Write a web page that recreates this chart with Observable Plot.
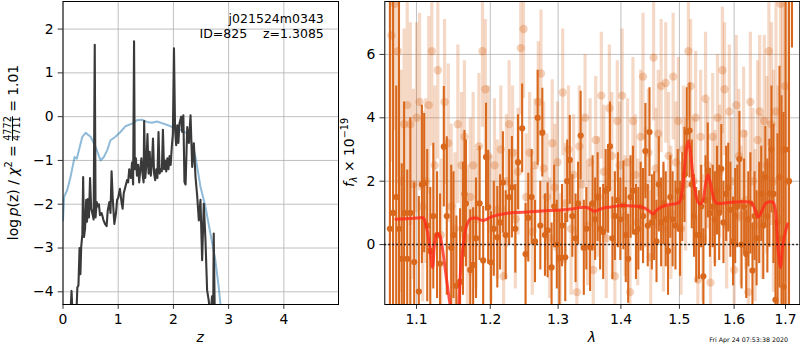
<!DOCTYPE html>
<html><head><meta charset="utf-8">
<script src="https://cdn.jsdelivr.net/npm/d3@7"></script>
<script src="https://cdn.jsdelivr.net/npm/@observablehq/plot@0.6"></script>
<style>
body{margin:0;background:#fff;}
#fig{position:relative;width:800px;height:350px;overflow:hidden;background:#fff;}
#fig svg{position:absolute;top:0;}
</style></head><body><div id="fig"></div>
<script>
// ---------- left panel: p(z) ----------
const zTicks = [0, 1, 2, 3, 4];
const logpTicks = [-4, -3, -2, -1, 0, 1, 2];
const pzZ = [0.13,0.155,0.175,0.24,0.26,0.28,0.30,0.315,0.33,0.35,0.365,0.38,0.40,0.42,0.435,0.45,0.47,0.49,0.51,0.53,0.555,0.575,0.59,0.61,0.63,0.65,0.67,0.70,0.73,0.76,0.79,0.81,0.84,0.86,0.88,0.90,0.93,0.96,0.98,1.00,1.03,1.06,1.08,1.10,1.13,1.16,1.18,1.20,1.23,1.25,1.27,1.287,1.30,1.32,1.34,1.36,1.38,1.40,1.42,1.44,1.46,1.47,1.49,1.51,1.53,1.55,1.57,1.59,1.61,1.63,1.65,1.67,1.69,1.71,1.73,1.75,1.77,1.79,1.81,1.83,1.85,1.87,1.89,1.91,1.93,1.95,1.97,1.99,2.01,2.03,2.05,2.07,2.09,2.11,2.14,2.16,2.18,2.20,2.22,2.25,2.28,2.31,2.34,2.37,2.40,2.43,2.46,2.49,2.52,2.55,2.58,2.61,2.64,2.67,2.70,2.72,2.73,2.75];
const pzLog = [-4.6,-3.98,-4.6,-4.6,-3.9,-3.85,-3.0,-3.6,-2.97,-2.7,-1.38,-2.75,-2.55,-1.9,-2.4,-1.88,-2.3,-1.4,-2.1,-2.2,-2.35,1.64,-2.3,-1.95,-2.05,-2.0,-2.25,-2.2,-2.35,-2.45,-2.5,-2.15,-1.95,-2.2,-1.25,-1.85,-2.45,-2.2,-1.9,-1.85,-1.65,-1.95,-2.1,-1.75,-1.6,-1.45,-1.5,-1.2,-1.4,-1.05,-1.55,1.72,-1.2,-0.95,-1.35,-1.1,-1.5,-1.2,-0.95,-1.3,-1.5,-0.1,-1.4,-1.1,-0.4,-1.3,-0.8,-1.35,-1.1,-0.5,-1.3,-1.45,-1.2,-1.4,-0.35,-1.3,-1.2,-1.25,-0.3,-1.2,-1.0,-1.25,-0.95,-1.2,-0.9,-1.1,-0.7,-0.4,1.56,-0.3,-0.65,-0.2,-0.6,-0.15,0.0,-0.35,0.03,-1.49,-1.55,-0.24,-0.6,0.03,-1.15,-0.61,-1.38,-1.8,-2.37,-1.9,-3.28,-1.99,-2.8,-3.96,-4.2,-4.6,-4.1,-4.6,-2.67,-4.6];
const priorZ = [0.0,0.02,0.075,0.136,0.21,0.25,0.35,0.41,0.5,0.59,0.68,0.74,0.80,0.86,0.95,1.04,1.13,1.25,1.34,1.43,1.52,1.61,1.70,1.82,1.95,2.03,2.16,2.25,2.34,2.40,2.49,2.58,2.67,2.76,2.82,2.85,2.9];
const priorLog = [-2.37,-1.83,-1.68,-1.38,-0.92,-0.96,-0.46,-0.37,-0.46,-0.69,-1.0,-0.92,-0.77,-0.54,-0.46,-0.35,-0.22,-0.16,-0.08,-0.07,-0.12,-0.14,-0.11,-0.16,-0.22,-0.27,-0.31,-0.39,-0.62,-0.92,-1.6,-2.06,-2.67,-3.28,-3.89,-4.26,-4.7];

// ---------- right panel: spectrum ----------
const lamTicks = [1.1, 1.2, 1.3, 1.4, 1.5, 1.6, 1.7];
const fluxTicks = [0, 2, 4, 6];
const darkLam = [1.066,1.070,1.074,1.0775,1.081,1.084,1.088,1.092,1.097,1.103,1.107,1.110,1.114,1.118,1.122,1.127,1.131,1.136,1.140,1.146,1.149,1.153,1.158,1.162,1.164,1.166,1.172,1.176,1.180,1.185,1.190,1.194,1.197,1.201,1.205,1.210,1.214,1.218,1.222,1.227,1.231,1.236,1.240,1.246,1.251,1.255,1.260,1.265,1.269,1.273,1.276,1.280,1.284,1.290,1.294,1.298,1.302,1.306,1.311,1.314,1.318,1.322,1.327,1.331,1.335,1.340,1.344,1.350,1.354,1.358,1.362,1.366,1.371,1.375,1.379,1.382,1.386,1.390,1.395,1.399,1.404,1.408,1.412,1.416,1.420,1.425,1.429,1.433,1.437,1.441,1.445,1.448,1.452,1.456,1.460,1.464,1.468,1.472,1.476,1.480,1.484,1.488,1.493,1.497,1.501,1.505,1.509,1.513,1.518,1.522,1.526,1.530,1.535,1.539,1.543,1.547,1.551,1.555,1.560,1.564,1.568,1.572,1.576,1.580,1.585,1.589,1.593,1.598,1.602,1.606,1.610,1.614,1.619,1.623,1.627,1.631,1.635,1.639,1.643,1.648,1.652,1.656,1.660,1.664,1.668,1.672,1.676,1.680,1.684,1.688,1.692,1.696,1.700,1.707,1.713];
const darkFlux = [0.5,1.0,1.5,0.5,-0.45,1.0,-0.45,1.0,-0.55,-1.48,1.9,1.94,0.6,-0.2,0.9,0.3,-0.6,3.09,0.9,-0.1,0.3,-1.3,-1.17,0.5,1.6,1.3,-0.8,-0.64,0.2,1.3,-0.5,2.76,1.18,-0.56,0.5,0.23,0.7,1.96,0.3,1.5,1.81,0.5,2.6,3.67,-0.3,0.85,1.5,0.1,4.0,0.6,3.53,0.3,0.45,-0.72,1.2,0.0,-0.42,0.6,-0.4,2.0,2.67,0.9,0.2,1.3,3.44,-0.1,0.5,-0.08,1.3,0.8,1.5,0.5,0.4,1.7,1.76,3.1,0.2,0.9,1.4,0.8,1.24,0.3,-0.45,1.5,1.7,0.4,0.5,1.2,0.9,2.95,0.6,3.55,0.7,0.9,0.1,1.9,0.7,1.3,0.8,-0.2,1.5,0.8,0.6,1.7,0.5,1.5,2.2,3.55,3.6,1.9,0.9,0.3,0.3,1.2,-1.0,1.4,2.34,1.0,1.2,0.8,1.7,1.0,2.39,0.7,1.6,1.8,1.1,0.1,0.9,1.2,2.7,0.0,1.2,-0.3,0.8,1.3,-0.82,0.9,0.2,1.0,1.6,0.6,2.13,0.9,1.62,3.0,1.6,-1.74,0.7,2.13,0.2,-1.33,3.0,2.0,10.0];
const darkErr = [9,9,3.5,9,3.0,3.5,2.8,3.0,2.5,3.0,2.5,2.2,2.4,2.0,2.3,2.0,2.2,1.9,2.5,2.6,2.0,2.2,2.3,2.1,2.0,2.0,1.9,1.8,1.9,1.8,1.7,1.7,1.8,1.6,1.5,1.6,1.5,1.6,1.4,1.5,1.6,1.4,1.5,1.4,1.6,1.4,1.5,1.3,1.5,1.4,1.4,1.3,1.5,1.4,1.3,1.4,1.5,1.3,1.4,1.3,1.4,1.3,1.4,1.3,1.4,1.5,1.3,1.4,1.5,1.3,1.4,1.3,1.5,1.3,1.4,1.4,1.3,1.4,1.5,1.3,1.4,1.5,1.4,1.3,1.4,1.5,1.3,1.4,1.5,1.5,1.3,1.4,1.5,1.4,1.3,1.5,1.4,1.3,1.5,1.4,1.3,1.5,1.4,1.3,1.5,1.4,1.5,1.4,1.5,1.4,1.3,1.5,1.4,1.3,1.5,1.4,1.5,1.4,1.3,1.5,1.4,1.5,1.4,1.3,1.5,1.4,1.5,1.4,1.5,1.3,1.5,1.4,1.5,1.4,1.5,1.6,1.5,1.4,1.5,1.6,1.5,1.7,1.6,1.8,1.7,2.0,2.2,2.5,2.8,3.5,4.5,5.5,6.0,9.0,3.8];
const lightLam = [1.068,1.072,1.076,1.080,1.084,1.088,1.092,1.096,1.100,1.104,1.108,1.112,1.116,1.120,1.124,1.128,1.132,1.137,1.142,1.146,1.151,1.155,1.160,1.164,1.168,1.172,1.176,1.180,1.184,1.189,1.193,1.197,1.201,1.206,1.210,1.215,1.219,1.223,1.227,1.232,1.236,1.240,1.244,1.248,1.252,1.257,1.261,1.265,1.270,1.274,1.278,1.283,1.287,1.291,1.295,1.299,1.303,1.307,1.311,1.316,1.320,1.324,1.329,1.333,1.337,1.342,1.346,1.350,1.355,1.359,1.363,1.368,1.372,1.376,1.381,1.385,1.390,1.394,1.398,1.402,1.407,1.411,1.415,1.420,1.424,1.428,1.433,1.437,1.441,1.446,1.450,1.455,1.459,1.463,1.468,1.472,1.476,1.481,1.485,1.489,1.494,1.498,1.503,1.507,1.511,1.516,1.520,1.525,1.529,1.533,1.538,1.542,1.547,1.551,1.556,1.560,1.564,1.569,1.573,1.578,1.582,1.586,1.591,1.595,1.600,1.604,1.609,1.613,1.618,1.622,1.627,1.631,1.636,1.640,1.645,1.649,1.654,1.658,1.663,1.667,1.672,1.676,1.681,1.685,1.690,1.694,1.699,1.703];
const lightFlux = [6.6,7.6,6.1,2.0,3.8,4.4,3.8,1.9,4.0,4.5,1.2,2.0,4.4,6.1,2.5,5.5,0.3,4.5,3.2,1.2,0.5,3.8,2.5,3.4,0.2,1.5,2.5,0.8,3.1,6.1,4.9,2.8,0.5,2.5,1.1,3.0,-1.0,2.0,3.8,2.9,0.8,2.3,6.2,6.8,1.5,2.9,0.4,2.5,4.5,5.4,2.4,1.5,0.2,3.2,1.8,2.6,-0.5,4.8,1.3,3.0,0.5,2.2,-1.5,3.1,1.9,4.0,0.6,2.6,-0.8,3.3,1.5,4.7,2.3,0.2,4.3,2.8,-1.0,3.9,2.5,4.7,0.9,2.6,-1.5,3.9,2.2,0.7,3.4,5.3,1.8,2.9,-0.4,5.9,2.4,3.5,5.0,0.5,5.1,2.8,1.0,5.3,2.6,3.9,0.5,3.0,1.9,6.1,5.0,2.0,4.0,-1.1,3.4,0.2,4.6,2.5,-1.2,3.4,1.5,4.0,2.3,5.5,4.9,0.6,4.2,2.0,-0.8,4.4,2.8,0.9,3.5,1.4,-1.5,4.5,2.0,0.6,3.3,4.2,1.5,3.9,2.5,6.1,3.8,2.0,4.2,0.8,7.6,3.0,5.0,2.0];
const lightErr = [4,4,4,3.5,3.0,3.5,3.2,3.0,3.0,2.8,3.0,2.6,2.8,3.0,2.5,2.8,2.4,2.6,2.5,2.6,2.4,2.5,2.3,2.4,2.3,2.5,2.3,2.2,2.3,2.4,2.2,2.2,2.3,2.1,2.2,2.0,2.2,2.1,2.0,2.1,2.2,2.0,2.1,2.2,2.0,1.9,2.0,2.1,1.9,2.0,2.1,2.0,1.9,2.0,2.0,1.9,2.1,2.0,1.9,2.0,2.1,1.9,2.0,1.9,2.1,2.0,1.9,2.0,2.1,2.0,1.9,2.0,2.1,1.9,2.0,2.0,2.1,1.9,2.0,2.1,1.9,2.0,2.1,2.0,1.9,2.0,2.1,2.0,1.9,2.0,2.1,2.0,1.9,2.0,2.1,2.0,1.9,2.0,2.1,2.0,1.9,2.0,2.1,2.0,2.1,2.2,2.1,2.0,2.1,2.0,2.1,2.0,2.1,2.0,2.1,2.0,2.1,2.0,2.1,2.0,2.1,2.0,2.1,2.0,2.1,2.2,2.1,2.2,2.1,2.2,2.3,2.2,2.3,2.4,2.5,2.4,2.6,2.7,2.8,3.0,3.2,3.5,3.8,4.2,4.5,5.0,5.5,6.0];
const modelLam = [1.0735,1.090,1.105,1.109,1.113,1.117,1.121,1.124,1.127,1.130,1.134,1.138,1.142,1.147,1.152,1.156,1.159,1.163,1.167,1.172,1.180,1.189,1.195,1.200,1.210,1.220,1.236,1.255,1.275,1.305,1.320,1.335,1.345,1.352,1.357,1.364,1.372,1.385,1.400,1.416,1.430,1.440,1.448,1.454,1.460,1.468,1.478,1.490,1.500,1.504,1.508,1.512,1.516,1.520,1.524,1.528,1.533,1.537,1.542,1.547,1.551,1.555,1.560,1.566,1.575,1.590,1.614,1.630,1.636,1.641,1.646,1.651,1.657,1.662,1.675,1.679,1.682,1.686,1.690,1.694,1.699,1.704];
const modelFlux = [0.80,0.82,0.85,0.84,0.55,0.0,-0.72,0.1,0.33,0.32,-0.1,-0.8,-1.5,-2.3,-3.0,-2.0,-0.72,0.1,0.6,0.81,0.84,0.76,0.80,0.86,0.93,0.97,1.01,1.03,1.06,1.09,1.12,1.17,1.17,1.10,1.05,1.10,1.16,1.19,1.23,1.22,1.20,1.15,1.05,0.97,1.08,1.18,1.25,1.28,1.34,1.6,2.2,2.97,3.28,2.85,2.2,1.7,1.35,1.28,1.39,1.9,2.2,2.0,1.6,1.32,1.30,1.33,1.35,1.34,1.25,1.05,0.86,0.98,1.2,1.32,1.34,1.15,0.7,-0.3,-0.72,-0.08,0.35,0.65];

const FONT = "DejaVu Sans, sans-serif";
const FS = 13.9;
const style = {fontFamily: FONT, fontSize: FS + "px", color: "black", background: "white", overflow: "visible"};
const fmtMinus = d => (d < 0 ? "\u2212" + Math.abs(d) : String(d));
const gridStyle = {stroke: "#b0b0b0", strokeOpacity: 1, strokeWidth: 0.8};
const axisStyle = {tickSize: 4.86, tickPadding: 4.6, strokeWidth: 0.8, label: null};

const pzData = pzZ.map((z, i) => ({z, v: pzLog[i]}));
const priorData = priorZ.map((z, i) => ({z, v: priorLog[i]}));

const left = Plot.plot({
  width: 340, height: 350,
  marginLeft: 62.5, marginRight: 2, marginTop: 1, marginBottom: 46,
  style,
  x: {domain: [0, 4.99]},
  y: {domain: [-4.29, 2.63]},
  marks: [
    Plot.gridX(zTicks, gridStyle),
    Plot.gridY(logpTicks, gridStyle),
    Plot.line(priorData, {x: "z", y: "v", stroke: "#1f77b4", strokeOpacity: 0.5, strokeWidth: 2, clip: true}),
    Plot.line(pzData, {x: "z", y: "v", stroke: "#3a3a3a", strokeWidth: 2.1, clip: true}),
    Plot.frame({stroke: "black", strokeWidth: 1}),
    Plot.axisX(zTicks, {...axisStyle, tickFormat: fmtMinus}),
    Plot.axisY(logpTicks, {...axisStyle, tickFormat: fmtMinus}),
    Plot.text(["j021524m0343"], {text: d => d, frameAnchor: "top-right", lineAnchor: "bottom", textAnchor: "end", dx: -14.7, dy: 21, fontSize: 12.5}),
    Plot.text(["ID=825\u00a0\u00a0\u00a0\u00a0z=1.3085"], {text: d => d, frameAnchor: "top-right", lineAnchor: "bottom", textAnchor: "end", dx: -14.7, dy: 36, fontSize: 12.5})
  ]
});

const ORANGE = "#d9681c";
const dark = darkLam.map((lam, i) => ({lam, f: darkFlux[i], e: darkErr[i]}));
const light = lightLam.map((lam, i) => ({lam, f: lightFlux[i], e: lightErr[i]}));
const model = modelLam.map((lam, i) => ({lam, f: modelFlux[i]}));

const right = Plot.plot({
  width: 460, height: 350,
  marginLeft: 44.3, marginRight: 0.7, marginTop: 1, marginBottom: 46,
  style,
  x: {type: "log", domain: [1.0596, 1.7289]},
  y: {domain: [-1.89, 7.67]},
  marks: [
    Plot.gridX(lamTicks, gridStyle),
    Plot.gridY(fluxTicks, gridStyle),
    Plot.ruleX(light, {x: "lam", y1: d => d.f - d.e, y2: d => d.f + d.e, stroke: ORANGE, strokeOpacity: 0.25, strokeWidth: 3.2, clip: true}),
    Plot.dot(light, {x: "lam", y: "f", r: 4.2, fill: ORANGE, fillOpacity: 0.3, clip: true}),
    Plot.ruleX(dark, {x: "lam", y1: d => d.f - d.e, y2: d => d.f + d.e, stroke: ORANGE, strokeWidth: 2.1, clip: true}),
    Plot.dot(dark, {x: "lam", y: "f", r: 3.1, fill: ORANGE, clip: true}),
    Plot.line(model, {x: "lam", y: "f", stroke: "#ff2a1a", strokeOpacity: 0.8, strokeWidth: 3, curve: "catmull-rom", clip: true}),
    Plot.ruleY([0], {stroke: "black", strokeWidth: 1.5, strokeDasharray: "1.5,2.5"}),
    Plot.frame({stroke: "black", strokeWidth: 1}),
    Plot.axisX(lamTicks, {...axisStyle, tickFormat: d => d.toFixed(1)}),
    Plot.axisY(fluxTicks, {...axisStyle, tickFormat: fmtMinus})
  ]
});

const fig = document.getElementById("fig");
left.style.left = "0px";
right.style.left = "340px";
fig.appendChild(left);
fig.appendChild(right);

// ----- axis labels (real SVG text) -----
const L = d3.select(left);
const ylab = L.append("text")
  .attr("transform", "translate(17.5,152.5) rotate(-90)")
  .attr("text-anchor", "middle")
  .attr("font-family", FONT).attr("font-size", FS).attr("fill", "black");
ylab.append("tspan").text("log\u2009");
ylab.append("tspan").attr("font-style", "italic").text("p");
ylab.append("tspan").text("(z) / ");
ylab.append("tspan").attr("font-style", "italic").text("\u03c7");
ylab.append("tspan").attr("font-size", 9.7).attr("dy", -5.5).text("2");
ylab.append("tspan").attr("dy", 5.5).text(" = ");
ylab.append("tspan").attr("font-size", 9.7).attr("dy", -6.5).attr("text-decoration", "underline").text("4772");
ylab.append("tspan").attr("font-size", 9.7).attr("dx", -24.7).attr("dy", 8.5).text("4711");
ylab.append("tspan").attr("dy", -2).text(" = 1.01");

L.append("text").attr("x", 200.25).attr("y", 342).attr("text-anchor", "middle")
  .attr("font-family", FONT).attr("font-size", FS).attr("font-style", "italic").text("z");

const R = d3.select(right);
const ylab2 = R.append("text")
  .attr("transform", "translate(14,152.5) rotate(-90)")
  .attr("text-anchor", "middle")
  .attr("font-family", FONT).attr("font-size", FS).attr("fill", "black");
ylab2.append("tspan").attr("font-style", "italic").text("f");
ylab2.append("tspan").attr("font-size", 9.7).attr("font-style", "italic").attr("dy", 3).text("\u03bb");
ylab2.append("tspan").attr("dy", -3).text(" \u00d7 10");
ylab2.append("tspan").attr("font-size", 9.7).attr("dy", -6).text("\u221219");

R.append("text").attr("x", 251.8).attr("y", 342).attr("text-anchor", "middle")
  .attr("font-family", FONT).attr("font-size", FS).attr("font-style", "italic").text("\u03bb");

R.append("text").attr("x", 448).attr("y", 341.5).attr("text-anchor", "end")
  .attr("font-family", FONT).attr("font-size", 6.3).text("Fri Apr 24 07:53:38 2020");
</script>
</body></html>
